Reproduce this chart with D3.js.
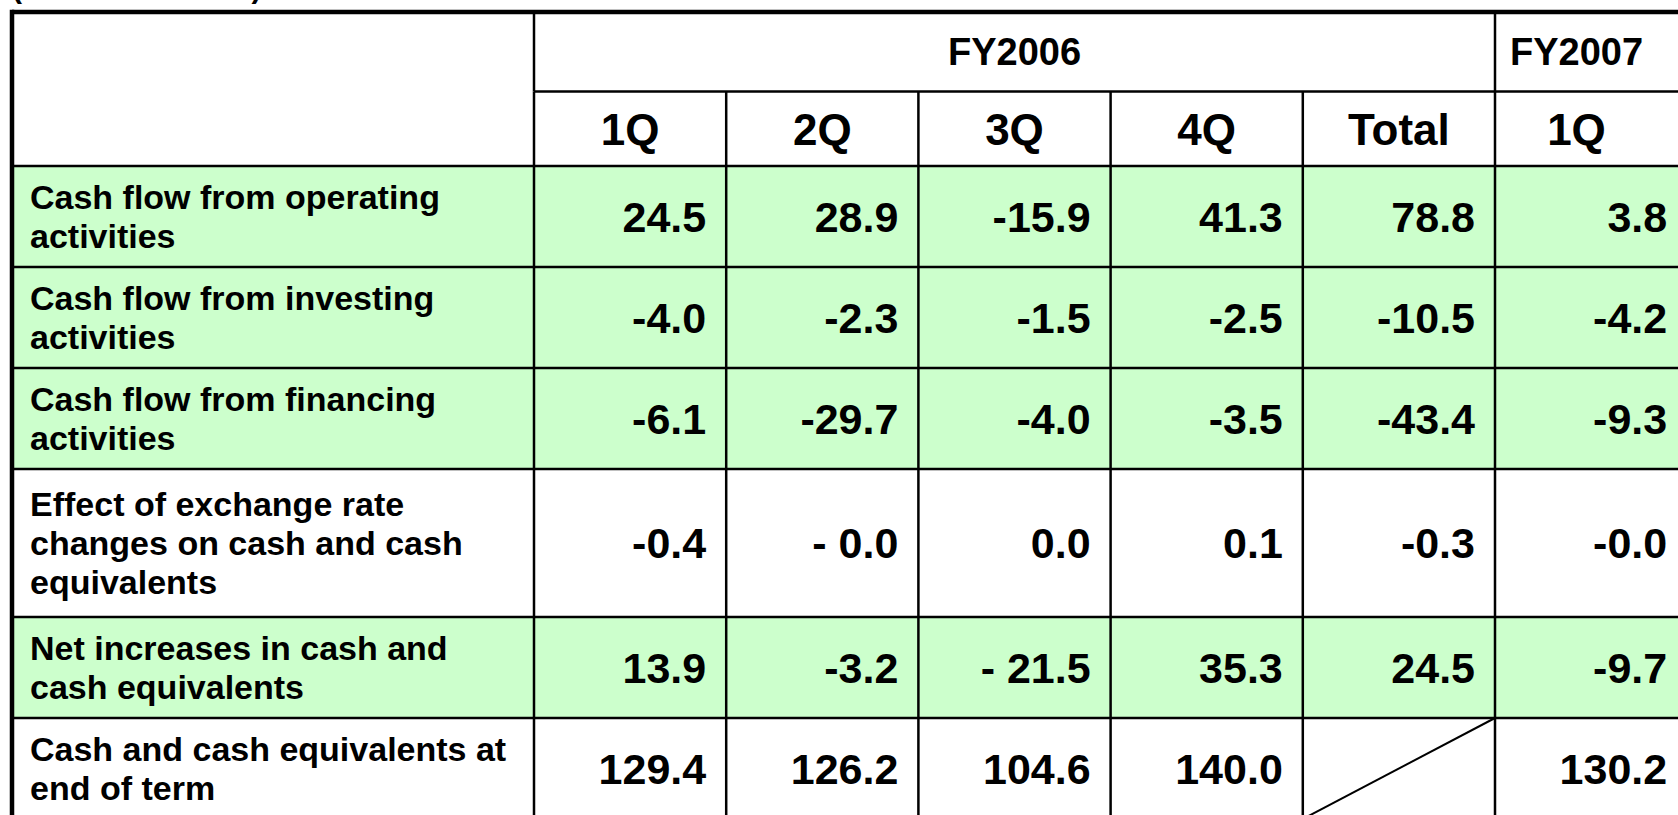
<html>
  <head>
    <script src="https://cdn.jsdelivr.net/npm/d3@7"></script>
    <style>
      body { margin: 0; background: #fff; overflow: hidden; }
      text { font-family: "Liberation Sans", Arial, sans-serif; font-weight: bold; fill: #000; }
    </style>
  </head>
  <body>
    <script>
      // table contents
      const unitNote = "(Unit: Billion Yen)";
      const fiscalYears = ["FY2006", "FY2007"];
      const fiscalSpans = [5, 1];
      const periods = ["1Q", "2Q", "3Q", "4Q", "Total", "1Q"];

      const rowLabels = [
        ["Cash flow from operating", "activities"],
        ["Cash flow from investing", "activities"],
        ["Cash flow from financing", "activities"],
        ["Effect of exchange rate", "changes on cash and cash", "equivalents"],
        ["Net increases in cash and", "cash equivalents"],
        ["Cash and cash equivalents at", "end of term"]
      ];
      const operating = ["24.5", "28.9", "-15.9", "41.3", "78.8", "3.8"];
      const investing = ["-4.0", "-2.3", "-1.5", "-2.5", "-10.5", "-4.2"];
      const financing = ["-6.1", "-29.7", "-4.0", "-3.5", "-43.4", "-9.3"];
      const exchangeEffect = ["-0.4", "- 0.0", "0.0", "0.1", "-0.3", "-0.0"];
      const netIncrease = ["13.9", "-3.2", "- 21.5", "35.3", "24.5", "-9.7"];
      const endOfTerm = ["129.4", "126.2", "104.6", "140.0", null, "130.2"];
      const shaded = [true, true, true, false, true, false];

      const rowValues = [operating, investing, financing, exchangeEffect, netIncrease, endOfTerm];

      const width = 1678, height = 815;
      const tblLeft = 12, tblTop = 12, labelRight = 534, colWidth = 192.2;
      const headA = 79.5, headB = 74.5;
      const lineGap = 39;
      const green = "#ccffcc";

      const svg = d3.select("body").append("svg")
          .attr("width", width)
          .attr("height", height);

      const x = d3.scaleBand()
          .domain(d3.range(periods.length))
          .range([labelRight, labelRight + colWidth * periods.length]);

      // row heights grow with the number of label lines
      const rowH = rowLabels.map(l => 7 + 47 * l.length);
      const bodyTop = tblTop + headA + headB;
      const rowTop = [bodyTop, ...Array.from(d3.cumsum(rowH)).map(v => bodyTop + v)];

      // unit note, mostly above the visible area (as on the slide)
      svg.append("text")
          .attr("x", 12)
          .attr("y", -2)
          .attr("font-size", 30)
          .text(unitNote);

      // row backgrounds
      svg.selectAll("rect.row")
          .data(rowLabels)
          .join("rect")
          .attr("class", "row")
          .attr("x", tblLeft)
          .attr("y", (d, i) => rowTop[i])
          .attr("width", width + 40)
          .attr("height", (d, i) => rowH[i])
          .attr("fill", (d, i) => shaded[i] ? green : "#fff");

      const grid = svg.append("g")
          .attr("stroke", "#000")
          .attr("stroke-width", 2.5);

      // horizontal rules
      grid.append("line")
          .attr("x1", labelRight).attr("x2", width + 10)
          .attr("y1", tblTop + headA).attr("y2", tblTop + headA);
      rowTop.forEach(y => {
        grid.append("line")
            .attr("x1", tblLeft).attr("x2", width + 10)
            .attr("y1", y).attr("y2", y);
      });

      // vertical rules: fiscal year groups span the top header row
      const groupStarts = [0, ...Array.from(d3.cumsum(fiscalSpans))];
      groupStarts.forEach(c => {
        const xx = labelRight + colWidth * c;
        grid.append("line")
            .attr("x1", xx).attr("x2", xx)
            .attr("y1", tblTop).attr("y2", tblTop + headA);
      });
      d3.range(periods.length + 1).forEach(c => {
        const xx = labelRight + colWidth * c;
        grid.append("line")
            .attr("x1", xx).attr("x2", xx)
            .attr("y1", tblTop + headA).attr("y2", rowTop[rowTop.length - 1]);
      });

      // outer frame (top and left visible)
      svg.append("line")
          .attr("x1", tblLeft).attr("x2", width + 10)
          .attr("y1", tblTop).attr("y2", tblTop)
          .attr("stroke", "#000").attr("stroke-width", 4.5);
      svg.append("line")
          .attr("x1", tblLeft).attr("x2", tblLeft)
          .attr("y1", tblTop - 2.2).attr("y2", height + 10)
          .attr("stroke", "#000").attr("stroke-width", 4.5);

      // centre of a span, kept inside the visible part of the page
      const midOf = (x0, x1) => (x0 + Math.min(x1, width - 20)) / 2;

      svg.selectAll("text.fy")
          .data(fiscalYears)
          .join("text")
          .attr("class", "fy")
          .attr("x", (d, i) => midOf(labelRight + colWidth * groupStarts[i], labelRight + colWidth * groupStarts[i + 1]))
          .attr("y", tblTop + headA / 2)
          .attr("dy", "0.36em")
          .attr("text-anchor", "middle")
          .attr("font-size", 38)
          .text(d => d);

      svg.selectAll("text.period")
          .data(periods)
          .join("text")
          .attr("class", "period")
          .attr("x", (d, i) => midOf(x(i), x(i) + x.bandwidth()))
          .attr("y", tblTop + headA + headB / 2)
          .attr("dy", "0.36em")
          .attr("text-anchor", "middle")
          .attr("font-size", 44)
          .text(d => d);

      // row labels
      const fsLabel = 34;
      rowLabels.forEach((lines, r) => {
        const cy = rowTop[r] + rowH[r] / 2;
        const b1 = cy - (lines.length - 1) * lineGap / 2 + 0.358 * fsLabel;
        svg.append("g").selectAll("text")
            .data(lines)
            .join("text")
            .attr("x", 30)
            .attr("y", (d, i) => b1 + i * lineGap)
            .attr("font-size", fsLabel)
            .text(d => d);
      });

      // values, right aligned
      rowValues.forEach((vals, r) => {
        const cy = rowTop[r] + rowH[r] / 2;
        svg.append("g").selectAll("text")
            .data(vals.map((v, c) => ({ v, c })).filter(d => d.v !== null))
            .join("text")
            .attr("x", d => x(d.c) + x.bandwidth() - 20)
            .attr("y", cy)
            .attr("dy", "0.36em")
            .attr("text-anchor", "end")
            .attr("font-size", 43)
            .text(d => d.v);

        // empty cell gets a diagonal stroke
        vals.forEach((v, c) => {
          if (v !== null) return;
          svg.append("line")
              .attr("x1", x(c) + x.bandwidth()).attr("y1", rowTop[r])
              .attr("x2", x(c)).attr("y2", rowTop[r + 1])
              .attr("stroke", "#000").attr("stroke-width", 2);
        });
      });
    </script>
  </body>
</html>
